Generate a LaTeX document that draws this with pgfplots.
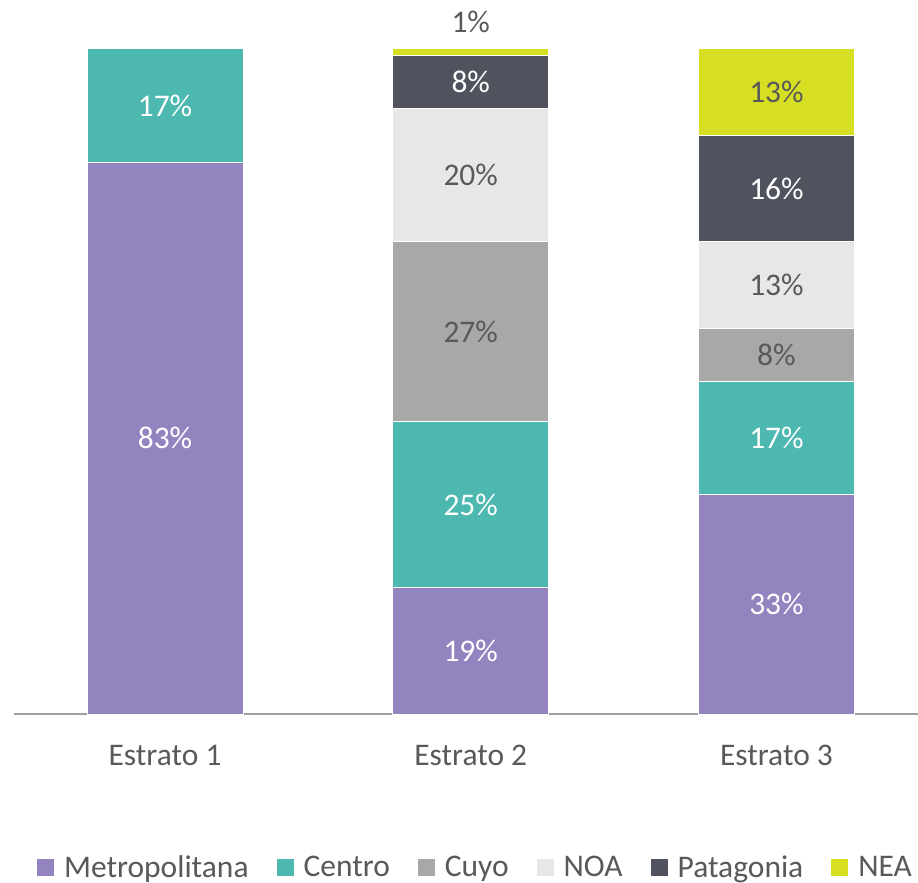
\documentclass[border=0pt]{standalone}
\usepackage{fontspec}
\setmainfont{Carlito}
\usepackage{pgfplots}
\pgfplotsset{compat=1.18}
\usepackage{pgfplotstable}
\usetikzlibrary{calc}
\definecolor{cMet}{RGB}{147,131,191}
\definecolor{cCen}{RGB}{77,184,176}
\definecolor{cCuy}{RGB}{168,168,168}
\definecolor{cNOA}{RGB}{231,231,231}
\definecolor{cPat}{RGB}{80,83,93}
\definecolor{cNEA}{RGB}{214,223,34}
\definecolor{txt}{RGB}{89,89,89}
\definecolor{axl}{RGB}{160,160,160}
\pgfplotstableread{
x y lab
0 41.5 83\%
0 91.5 17\%
1 9.5 19\%
1 31.5 25\%
1 95 8\%
2 16.5 33\%
2 41.5 17\%
2 79 16\%
}\whitelabels
\pgfplotstableread{
x y lab
1 57.5 27\%
1 81 20\%
1 104.1 1\%
2 54 8\%
2 64.5 13\%
2 93.5 13\%
}\darklabels
\begin{document}
\begin{tikzpicture}
\begin{axis}[
  name=ax,
  scale only axis,
  width=452bp, height=332.5bp,
  xmin=-0.494, xmax=2.463,
  ymin=0, ymax=100,
  ybar stacked,
  bar width=78bp,
  clip=false,
  axis y line=none,
  axis x line*=bottom,
  x axis line style={draw=axl, line width=1bp, -},
  xtick={0,1,2},
  xticklabels={Estrato 1, Estrato 2, Estrato 3},
  major tick length=0pt,
  xticklabel style={font=\fontsize{15.8}{18}\selectfont, text=txt, yshift=-12bp},
  legend style={at={(axis description cs:0.5,0)}, anchor=center, yshift=-77bp, xshift=5bp,
    draw=none, font=\fontsize{15.8}{18}\selectfont, text=txt,
    legend columns=-1,
    /tikz/every odd column/.append style={column sep=2.5bp},
    /tikz/every even column/.append style={column sep=11.5bp}},
  legend image code/.code={\fill[#1] (0bp,-4.3bp) rectangle (9bp,4.7bp);},
  legend cell align=left,
]
\addplot[fill=cMet, draw=white, line width=0.5bp] coordinates {(0,83) (1,19) (2,33)};
\addplot[fill=cCen, draw=white, line width=0.5bp] coordinates {(0,17) (1,25) (2,17)};
\addplot[fill=cCuy, draw=white, line width=0.5bp] coordinates {(0,0) (1,27) (2,8)};
\addplot[fill=cNOA, draw=white, line width=0.5bp] coordinates {(0,0) (1,20) (2,13)};
\addplot[fill=cPat, draw=white, line width=0.5bp] coordinates {(0,0) (1,8) (2,16)};
\addplot[fill=cNEA, draw=white, line width=0.5bp] coordinates {(0,0) (1,1) (2,13)};
\legend{Metropolitana, Centro, Cuyo, NOA, Patagonia, NEA}
\end{axis}
\begin{axis}[
  scale only axis,
  width=452bp, height=332.5bp,
  xmin=-0.494, xmax=2.463,
  ymin=0, ymax=100,
  clip=false, hide axis,
  at={(ax.south west)}, anchor=south west,
]
\addplot[only marks, mark=none, nodes near coords, point meta=explicit symbolic,
  every node near coord/.style={anchor=center, text=white, font=\fontsize{15.8}{18}\selectfont}]
  table[x=x, y=y, meta=lab] {\whitelabels};
\addplot[only marks, mark=none, nodes near coords, point meta=explicit symbolic,
  every node near coord/.style={anchor=center, text=txt, font=\fontsize{15.8}{18}\selectfont}]
  table[x=x, y=y, meta=lab] {\darklabels};
\end{axis}
\pgfresetboundingbox
\path[use as bounding box] ($(ax.south west)+(-7bp,-84.5bp)$) rectangle ($(ax.north east)+(0bp,24.5bp)$);
\end{tikzpicture}
\end{document}
